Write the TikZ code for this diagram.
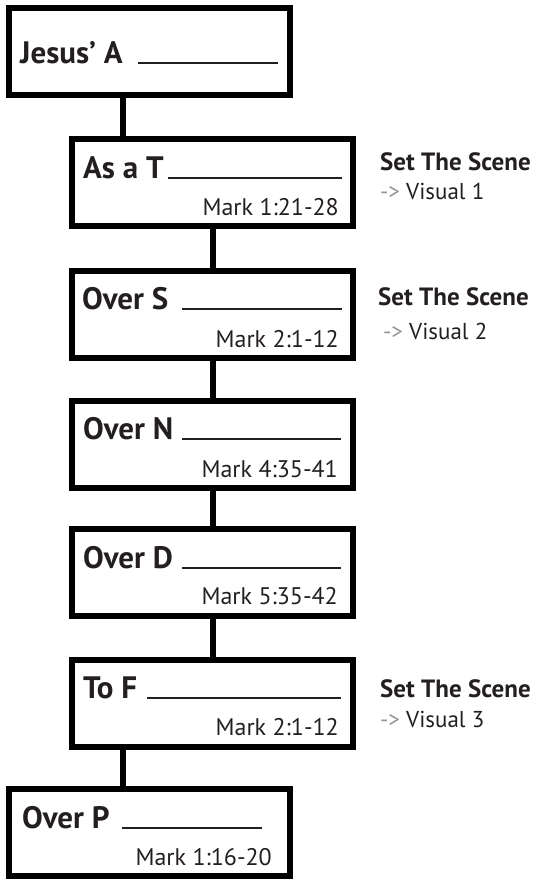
\documentclass[tikz,border=0pt]{standalone}
\usepackage{fontspec}
\setmainfont{PT Sans}
\usetikzlibrary{positioning}
\definecolor{ink}{HTML}{231F20}
\definecolor{arrowgray}{HTML}{939598}
\tikzstyle{stagebox} = [rectangle, draw=black, line width=6pt, minimum width=281pt, minimum height=87pt, inner sep=0pt]
\tikzstyle{heading} = [inner sep=0pt, text=ink, font=\fontsize{31}{33}\selectfont\bfseries]
\tikzstyle{refnote} = [inner sep=0pt, text=ink, font=\fontsize{24}{27}\selectfont]
\tikzstyle{scenehead} = [inner sep=0pt, text=ink, font=\fontsize{25}{28}\selectfont\bfseries]
\tikzstyle{scenestep} = [inner sep=0pt, text=ink, font=\fontsize{23}{26}\selectfont]
\tikzstyle{blank} = [line width=2pt, draw=ink]
\tikzstyle{link} = [line width=6pt, draw=black]

\begin{document}
\begin{tikzpicture}[x=1pt, y=-1pt]
\useasboundingbox (0,0) rectangle (537,879);

% Boxes
\node (jesus) [stagebox] at (149.5,51.5) {};
\node (teacher) [stagebox] at (212.5,182.5) {};
\node (sins) [stagebox] at (212.5,314) {};
\node (nature) [stagebox] at (212.5,444) {};
\node (demons) [stagebox] at (212.5,572.5) {};
\node (forgive) [stagebox] at (212.5,703) {};
\node (people) [stagebox] at (149.5,832) {};

% Headings and blanks
\node (jesusT) [heading, anchor=base west] at (20,63) {Jesus’ A};
\draw [blank] (138,63) -- (278,63);
\node (teacherT) [heading, anchor=base west] at (83,178) {As a T};
\draw [blank] (168,178) -- (342,178);
\node (sinsT) [heading, anchor=base west] at (82,309) {Over S};
\draw [blank] (182,309) -- (342,309);
\node (natureT) [heading, anchor=base west] at (83,439) {Over N};
\draw [blank] (182,439) -- (341,439);
\node (demonsT) [heading, anchor=base west] at (83,568) {Over D};
\draw [blank] (182,568) -- (341,568);
\node (forgiveT) [heading, anchor=base west] at (83,698) {To F};
\draw [blank] (147,698) -- (341,698);
\node (peopleT) [heading, anchor=base west] at (22,828) {Over P};
\draw [blank] (122,828) -- (262,828);

% References
\node (teacherR) [refnote, anchor=base east] at (339,215) {Mark 1:21-28};
\node (sinsR) [refnote, anchor=base east] at (339,347) {Mark 2:1-12};
\node (natureR) [refnote, anchor=base east] at (338,477) {Mark 4:35-41};
\node (demonsR) [refnote, anchor=base east] at (338,604) {Mark 5:35-42};
\node (forgiveR) [refnote, anchor=base east] at (339,735) {Mark 2:1-12};
\node (peopleR) [refnote, anchor=base east] at (272,865) {Mark 1:16-20};

% Scene notes
\node (scene1) [scenehead, anchor=base west] at (380,170) {Set The Scene};
\node (visual1) [scenestep, anchor=base west] at (380,199) {\textcolor{arrowgray}{->} Visual 1};
\node (scene2) [scenehead, anchor=base west] at (378,305) {Set The Scene};
\node (visual2) [scenestep, anchor=base west] at (383,339) {\textcolor{arrowgray}{->} Visual 2};
\node (scene3) [scenehead, anchor=base west] at (380,697) {Set The Scene};
\node (visual3) [scenestep, anchor=base west] at (380,727) {\textcolor{arrowgray}{->} Visual 3};

% Links
\coordinate (trunk) at (123,0);
\draw [link] (jesus.south -| trunk) -- (teacher.north -| trunk);
\draw [link] (teacher) -- (sins);
\draw [link] (sins) -- (nature);
\draw [link] (nature) -- (demons);
\draw [link] (demons) -- (forgive);
\draw [link] (forgive.south -| trunk) -- (people.north -| trunk);

\end{tikzpicture}
\end{document}
